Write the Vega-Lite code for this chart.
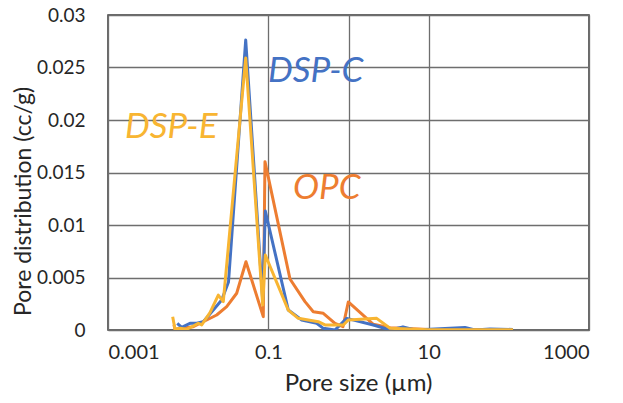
{
  "$schema": "https://vega.github.io/schema/vega-lite/v6.json",
  "width": 481,
  "height": 315,
  "autosize": {"type": "none"},
  "padding": {"left": 108, "top": 15, "right": 34, "bottom": 73},
  "background": "white",
  "config": {
    "view": {"stroke": "#3a3a3a", "strokeWidth": 1.5},
    "font": "Lato"
  },
  "datasets": {
    "curves": [
      {"s": "OPC", "x": 0.00665, "y": 0.00048},
      {"s": "OPC", "x": 0.00685, "y": 0.00007},
      {"s": "OPC", "x": 0.01159, "y": 0.00031},
      {"s": "OPC", "x": 0.01703, "y": 0.00095},
      {"s": "OPC", "x": 0.02269, "y": 0.00143},
      {"s": "OPC", "x": 0.03024, "y": 0.00222},
      {"s": "OPC", "x": 0.0403, "y": 0.0035},
      {"s": "OPC", "x": 0.0526, "y": 0.0065},
      {"s": "OPC", "x": 0.0865, "y": 0.00127},
      {"s": "OPC", "x": 0.0908, "y": 0.01603},
      {"s": "OPC", "x": 0.1863, "y": 0.00486},
      {"s": "OPC", "x": 0.2866, "y": 0.0027},
      {"s": "OPC", "x": 0.3637, "y": 0.00174},
      {"s": "OPC", "x": 0.4849, "y": 0.00159},
      {"s": "OPC", "x": 0.6785, "y": 0.00064},
      {"s": "OPC", "x": 0.853, "y": 0.00031},
      {"s": "OPC", "x": 0.994, "y": 0.00267},
      {"s": "OPC", "x": 2.04, "y": 0.00054},
      {"s": "OPC", "x": 3.293, "y": 0.00022},
      {"s": "OPC", "x": 10, "y": 0.00005},
      {"s": "OPC", "x": 112.7, "y": 0.00005},
      {"s": "DSP-C", "x": 0.00731, "y": 0.00064},
      {"s": "DSP-C", "x": 0.0083, "y": 0.00026},
      {"s": "DSP-C", "x": 0.01054, "y": 0.00064},
      {"s": "DSP-C", "x": 0.01278, "y": 0.00064},
      {"s": "DSP-C", "x": 0.01544, "y": 0.00079},
      {"s": "DSP-C", "x": 0.02058, "y": 0.0019},
      {"s": "DSP-C", "x": 0.02619, "y": 0.00286},
      {"s": "DSP-C", "x": 0.03185, "y": 0.00457},
      {"s": "DSP-C", "x": 0.0522, "y": 0.02762},
      {"s": "DSP-C", "x": 0.085, "y": 0.00286},
      {"s": "DSP-C", "x": 0.0917, "y": 0.01133},
      {"s": "DSP-C", "x": 0.1774, "y": 0.0019},
      {"s": "DSP-C", "x": 0.2608, "y": 0.00095},
      {"s": "DSP-C", "x": 0.4011, "y": 0.00064},
      {"s": "DSP-C", "x": 0.4849, "y": 0.00016},
      {"s": "DSP-C", "x": 0.6785, "y": 0.0},
      {"s": "DSP-C", "x": 0.949, "y": 0.00111},
      {"s": "DSP-C", "x": 2.04, "y": 0.00048},
      {"s": "DSP-C", "x": 3.293, "y": 0.0},
      {"s": "DSP-C", "x": 4.78, "y": 0.0003},
      {"s": "DSP-C", "x": 6.75, "y": 0.0},
      {"s": "DSP-C", "x": 28.4, "y": 0.00024},
      {"s": "DSP-C", "x": 37.8, "y": 0.0},
      {"s": "DSP-C", "x": 58.2, "y": 0.0001},
      {"s": "DSP-C", "x": 112.7, "y": 0.00005},
      {"s": "DSP-E", "x": 0.00641, "y": 0.00127},
      {"s": "DSP-E", "x": 0.00685, "y": 0.00007},
      {"s": "DSP-E", "x": 0.00791, "y": 0.00016},
      {"s": "DSP-E", "x": 0.00958, "y": 0.00007},
      {"s": "DSP-E", "x": 0.01159, "y": 0.00038},
      {"s": "DSP-E", "x": 0.01338, "y": 0.00064},
      {"s": "DSP-E", "x": 0.01475, "y": 0.00048},
      {"s": "DSP-E", "x": 0.01872, "y": 0.00165},
      {"s": "DSP-E", "x": 0.02376, "y": 0.00333},
      {"s": "DSP-E", "x": 0.02743, "y": 0.0027},
      {"s": "DSP-E", "x": 0.0522, "y": 0.0259},
      {"s": "DSP-E", "x": 0.085, "y": 0.00238},
      {"s": "DSP-E", "x": 0.0917, "y": 0.00714},
      {"s": "DSP-E", "x": 0.1774, "y": 0.0019},
      {"s": "DSP-E", "x": 0.2364, "y": 0.00111},
      {"s": "DSP-E", "x": 0.42, "y": 0.00079},
      {"s": "DSP-E", "x": 0.509, "y": 0.00048},
      {"s": "DSP-E", "x": 0.861, "y": 0.00048},
      {"s": "DSP-E", "x": 0.994, "y": 0.00095},
      {"s": "DSP-E", "x": 2.247, "y": 0.00111},
      {"s": "DSP-E", "x": 3.293, "y": 0.00016},
      {"s": "DSP-E", "x": 10, "y": 0.00003},
      {"s": "DSP-E", "x": 112.7, "y": 0.00003}
    ],
    "labels": [
      {"s": "DSP-C", "x": 0.099, "y": 0.02362},
      {"s": "DSP-E", "x": 0.00163, "y": 0.01833},
      {"s": "OPC", "x": 0.203, "y": 0.01243}
    ]
  },
  "layer": [
    {
      "data": {"name": "curves"},
      "transform": [{"filter": "datum.s == 'OPC'"}],
      "mark": {"type": "line", "color": "#ED7D31", "strokeWidth": 3, "strokeJoin": "round", "clip": true},
      "encoding": {
        "x": {
          "field": "x", "type": "quantitative",
          "scale": {"type": "log", "domain": [0.001, 1000], "nice": false},
          "axis": {
            "values": [0.001, 0.1, 1, 10, 1000],
            "labelExpr": "datum.value == 1 ? '' : format(datum.value, '~g')",
            "ticks": false, "domain": false,
            "grid": true, "gridColor": "#6e6e6e", "gridWidth": 1.3,
            "labelFont": "Lato", "labelFontSize": 20, "labelColor": "#262626", "labelPadding": 12,
            "title": "Pore size (µm)", "titleFont": "Lato", "titleFontSize": 24, "titleFontWeight": "normal",
            "titleColor": "#262626", "titleX": 250, "titleY": 53, "titleBaseline": "middle"
          }
        },
        "y": {
          "field": "y", "type": "quantitative",
          "scale": {"domain": [0, 0.03], "nice": false},
          "axis": {
            "values": [0, 0.005, 0.01, 0.015, 0.02, 0.025, 0.03],
            "format": "~g",
            "ticks": false, "domain": false,
            "grid": true, "gridColor": "#6e6e6e", "gridWidth": 1.3,
            "labelFont": "Lato", "labelFontSize": 19, "labelColor": "#262626", "labelPadding": 23,
            "title": "Pore distribution (cc/g)", "titleFont": "Lato", "titleFontSize": 23, "titleFontWeight": "normal",
            "titleColor": "#262626", "titleX": -78, "titleY": 186, "titleBaseline": "alphabetic", "titleAlign": "center", "titleAngle": -90
          }
        }
      }
    },
    {
      "data": {"name": "curves"},
      "transform": [{"filter": "datum.s == 'DSP-C'"}],
      "mark": {"type": "line", "color": "#4472C4", "strokeWidth": 3, "strokeJoin": "round", "clip": true},
      "encoding": {
        "x": {"field": "x", "type": "quantitative"},
        "y": {"field": "y", "type": "quantitative"}
      }
    },
    {
      "data": {"name": "curves"},
      "transform": [{"filter": "datum.s == 'DSP-E'"}],
      "mark": {"type": "line", "color": "#F8B532", "strokeWidth": 3, "strokeJoin": "round", "clip": true},
      "encoding": {
        "x": {"field": "x", "type": "quantitative"},
        "y": {"field": "y", "type": "quantitative"}
      }
    },
    {
      "data": {"name": "labels"},
      "mark": {"type": "text", "align": "left", "baseline": "alphabetic", "font": "Lato", "fontSize": 35, "fontStyle": "italic"},
      "encoding": {
        "x": {"field": "x", "type": "quantitative"},
        "y": {"field": "y", "type": "quantitative"},
        "text": {"field": "s"},
        "color": {
          "field": "s", "type": "nominal",
          "scale": {"domain": ["OPC", "DSP-C", "DSP-E"], "range": ["#ED7D31", "#4472C4", "#F8B532"]},
          "legend": null
        }
      }
    }
  ]
}
